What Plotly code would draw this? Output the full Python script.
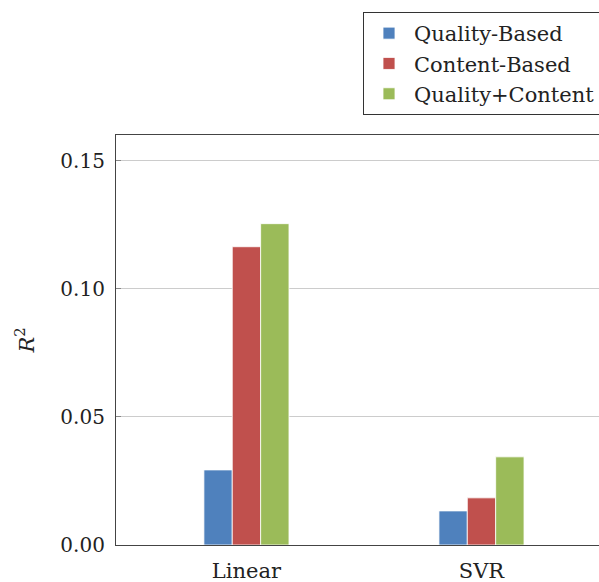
import plotly.graph_objects as go

categories = ["Linear", "SVR"]
quality_based = [0.0293, 0.0133]
content_based = [0.1164, 0.0184]
quality_content = [0.1254, 0.0344]
y_ticks = [0.0, 0.05, 0.10, 0.15]
y_tick_labels = ["0.00", "0.05", "0.10", "0.15"]

series = [
    ("Quality-Based", quality_based, "#4F81BD"),
    ("Content-Based", content_based, "#C0504D"),
    ("Quality+Content", quality_content, "#9BBB59"),
]

font_family = "DejaVu Serif, Liberation Serif, serif"
fs = 20

fig = go.Figure()
for name, vals, col in series:
    fig.add_trace(go.Bar(
        x=categories, y=vals, name=name,
        marker=dict(color=col, line=dict(color="rgba(255,255,255,0.8)", width=1)),
    ))

fig.update_layout(
    width=599, height=582,
    margin=dict(l=116, r=0, t=135, b=37, autoexpand=False),
    paper_bgcolor="white", plot_bgcolor="white",
    barmode="group", bargap=0.638, bargroupgap=0,
    font=dict(family=font_family, size=fs, color="#222"),
    showlegend=True,
    legend=dict(
        x=(363 - 116) / 483, y=(545 - 12) / 410,
        xanchor="left", yanchor="top",
        bordercolor="#333", borderwidth=1,
        bgcolor="white",
        font=dict(family=font_family, size=21, color="#222"),
        tracegroupgap=0,
        itemwidth=40,
    ),
    xaxis=dict(
        type="category",
        range=[-0.555, 1.5],
        automargin=False,
        showline=True, linecolor="#444", linewidth=1.2, mirror=True,
        ticks="", showgrid=False,
        ticklabelstandoff=7,
        tickfont=dict(family=font_family, size=21, color="#222"),
    ),
    yaxis=dict(
        range=[0, 0.16],
        automargin=False,
        tickvals=y_ticks, ticktext=y_tick_labels,
        showline=True, linecolor="#444", linewidth=1.2, mirror=False,
        ticks="inside", ticklen=5, tickcolor="#888",
        showgrid=True, gridcolor="#cccccc", gridwidth=1,
        zeroline=False,
        ticklabelstandoff=6,
        tickfont=dict(family=font_family, size=fs, color="#222"),
        title=dict(text="<i>R</i><sup>2</sup>", standoff=20,
                   font=dict(family=font_family, size=21, color="#222")),
    ),
)

fig.write_html("out.html", config={"displayModeBar": False},
               post_script="document.body.style.margin='0';")
